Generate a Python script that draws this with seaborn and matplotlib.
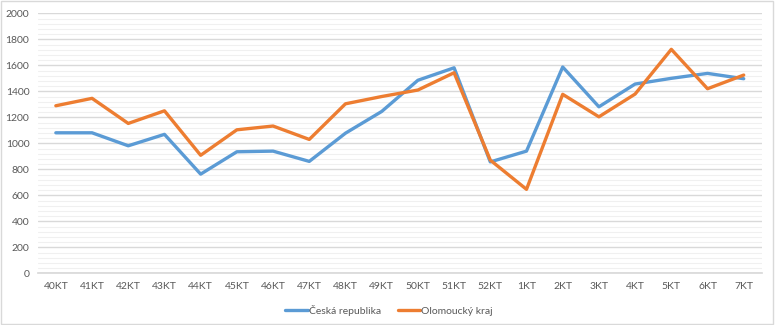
import matplotlib
matplotlib.use("Agg")
import matplotlib.pyplot as plt
import seaborn as sns
import pandas as pd
from matplotlib.ticker import MultipleLocator
from matplotlib.patches import Rectangle

categories = ["40KT", "41KT", "42KT", "43KT", "44KT", "45KT", "46KT", "47KT", "48KT", "49KT",
              "50KT", "51KT", "52KT", "1KT", "2KT", "3KT", "4KT", "5KT", "6KT", "7KT"]
ceska = [1081, 1081, 981, 1069, 763, 935, 940, 861, 1078, 1245,
         1485, 1581, 857, 940, 1587, 1281, 1456, 1500, 1538, 1497]
olomoucky = [1289, 1346, 1153, 1250, 908, 1104, 1133, 1030, 1304, 1360,
             1410, 1543, 871, 646, 1377, 1204, 1379, 1723, 1420, 1525]
series_names = ["Česká republika", "Olomoucký kraj"]
colors = ["#5B9BD5", "#ED7D31"]

df = pd.DataFrame({
    "cat": categories * 2,
    "x": list(range(len(categories))) * 2,
    "val": ceska + olomoucky,
    "series": [series_names[0]] * len(categories) + [series_names[1]] * len(categories),
})

sns.set_theme(style="white")
plt.rcParams['font.family'] = ['Lato', 'DejaVu Sans']

fig = plt.figure(figsize=(7.75, 3.25), dpi=100)
ax = fig.add_axes([0.0487, 0.159, 0.9343, 0.8])

sns.lineplot(data=df, x="x", y="val", hue="series", palette=colors, linewidth=2.4,
             ax=ax, legend=True, sort=False)

ax.set_xlim(-0.5, len(categories) - 0.5)
ax.set_ylim(0, 2000)
ax.set_xticks(range(len(categories)))
ax.set_xticklabels(categories)
ax.yaxis.set_major_locator(MultipleLocator(200))
ax.yaxis.set_minor_locator(MultipleLocator(40))
ax.grid(axis="y", which="major", color="#d9d9d9", linewidth=1.0)
ax.grid(axis="y", which="minor", color="#f0f0f0", linewidth=0.8)
ax.set_axisbelow(True)
for s in ["top", "right", "left"]:
    ax.spines[s].set_visible(False)
ax.spines["bottom"].set_color("#d9d9d9")
ax.tick_params(axis="both", which="both", length=0, labelsize=7.5, colors="#595959", pad=6)
ax.set_xlabel("")
ax.set_ylabel("")

leg = ax.legend(loc="upper center", bbox_to_anchor=(0.485, -0.085), ncol=2, frameon=False,
                fontsize=7.5, handlelength=2.2, columnspacing=1.6, handletextpad=0.1)
for t in leg.get_texts():
    t.set_color("#595959")
for l in leg.get_lines():
    l.set_linewidth(2.4)

fig.patches.append(Rectangle((0.001, 0.002), 0.997, 0.995, transform=fig.transFigure,
                             fill=False, edgecolor="#d9d9d9", linewidth=1.0))

fig.savefig("out.png", dpi=100, facecolor="white")
